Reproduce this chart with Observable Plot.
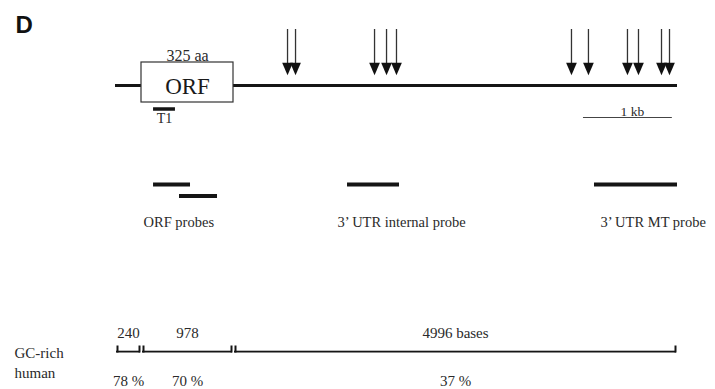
<!DOCTYPE html>
<html>
<head>
<meta charset="utf-8">
<script src="https://cdn.jsdelivr.net/npm/d3@7"></script>
<script src="https://cdn.jsdelivr.net/npm/@observablehq/plot@0.6"></script>
<style>
  html, body { margin: 0; padding: 0; background: #fff; }
  #chart { width: 715px; height: 389px; }
</style>
</head>
<body>
<div id="chart"></div>
<script>
// ---------------- DATA (bases along the transcript) ----------------
const segmentNames   = ["5’ UTR", "ORF", "3’ UTR"];
const segmentLengths = [240, 978, 4996];          // bases
const gcPercent      = [78, 70, 37];              // % GC, GC-rich human
const orfLengthAA    = 325;                        // aa
const arrowPositions = [1826, 1916, 2805, 2940, 3052, 5021, 5212, 5651, 5775, 6034, 6124]; // motif sites (bp)
const t1Probe        = {name: "T1", start: 368, end: 601};
const probeNames     = ["ORF probe a", "ORF probe b", "3’ UTR internal probe", "3’ UTR MT probe"];
const probeGroups    = ["ORF probes", "ORF probes", "3’ UTR internal probe", "3’ UTR MT probe"];
const probeStarts    = [368, 644, 2501, 5280];
const probeEnds      = [761, 1048, 3086, 6214];
const scaleBar       = {start: 5156, length: 1000, label: "1 kb"};
const rowLabels      = ["GC-rich", "human"];
const panelLabel     = "D";

// ---------------- derived tables ----------------
let acc = 0;
const segments = segmentNames.map((name, i) => {
  const s = {name, start: acc, end: acc + segmentLengths[i], length: segmentLengths[i], gc: gcPercent[i],
    label: i === segmentNames.length - 1 ? `${segmentLengths[i]} bases` : `${segmentLengths[i]}`};
  acc += segmentLengths[i];
  return s;
});
const total = acc;
const orf = segments[1];
const probes = probeNames.map((name, i) => ({name, group: probeGroups[i], start: probeStarts[i], end: probeEnds[i]}));
probes.forEach((p, i) => { p.lane = probes.slice(0, i).filter(q => q.group === p.group).length; });
const groups = d3.groups(probes, d => d.group).map(([group, ps]) => ({group, start: d3.min(ps, d => d.start)}));

// ---------------- LAYOUT (pixels, code only) ----------------
const L = {
  shaftTop: 29, shaftBottom: 64, head: 68.5, gene: 85,
  boxTop: 62, boxBottom: 102, aaBase: 60, orfBase: 93,
  t1: 108.5, t1Base: 122, scale: 117, scaleBase: 115,
  probe: 184, laneGap: 11.5, probeLabelBase: 226,
  segLabelBase: 337, brTop: 345.5, brBottom: 352.5, pctBase: 385,
  rowBase: [357, 377]
};
const labelDx = {"ORF probes": -10, "3’ UTR internal probe": -10, "3’ UTR MT probe": 6};
const ink = "#151515", txt = "#2a2a2a";

// the schematic draws the 5' UTR a little wider than to scale: a piecewise warp of the base axis
const xLeft = 115, xRight = 677;
const pxPerBase = (xRight - xLeft) / total;
const warp = d3.scaleLinear()
  .domain([0, segments[1].start, segments[2].start, total])
  .range([0, (141 - xLeft) / pxPerBase, (233 - xLeft) / pxPerBase, total]);

const downTriangle = {
  draw(ctx, size) {
    const r = Math.sqrt(size / Math.PI);
    const w = r * 0.85, h = r;
    ctx.moveTo(-w, -h); ctx.lineTo(w, -h); ctx.lineTo(0, h); ctx.closePath();
  }
};

const serif = "Liberation Serif";

const chart = Plot.plot({
  width: 715, height: 389,
  marginTop: 0, marginRight: 0, marginBottom: 0, marginLeft: 0,
  x: {domain: [0, total], range: [xLeft, xRight], transform: d => warp(d), axis: null},
  y: {type: "identity"},
  style: {background: "#fff", fontFamily: serif, color: txt},
  marks: [
    // panel label
    Plot.text([panelLabel], {frameAnchor: "top-left", dx: 15, dy: 32, lineAnchor: "bottom", text: d => d,
      fontFamily: "Liberation Sans", fontWeight: "bold", fontSize: 24, fill: "#111", textAnchor: "start"}),
    // gene line
    Plot.ruleY([{start: 0, end: total}], {x1: "start", x2: "end", y: () => L.gene, stroke: ink, strokeWidth: 3}),
    // ORF box
    Plot.rect([orf], {x1: "start", x2: "end", y1: () => L.boxTop, y2: () => L.boxBottom, fill: "#fff", stroke: "#333", strokeWidth: 1.2}),
    Plot.text([orf], {x: d => (d.start + d.end) / 2, y: () => L.orfBase, text: () => "ORF", lineAnchor: "bottom", fontSize: 23, fill: "#1a1a1a"}),
    Plot.text([orf], {x: d => (d.start + d.end) / 2, y: () => L.aaBase, text: () => `${orfLengthAA} aa`, lineAnchor: "bottom", fontSize: 16, fill: txt}),
    // arrows
    Plot.ruleX(arrowPositions, {x: d => d, y1: () => L.shaftTop, y2: () => L.shaftBottom, stroke: "#333", strokeWidth: 1.3}),
    Plot.dot(arrowPositions, {x: d => d, y: () => L.head, symbol: downTriangle, r: 6.3, fill: "#111", stroke: "none"}),
    // T1
    Plot.ruleY([t1Probe], {x1: "start", x2: "end", y: () => L.t1, stroke: ink, strokeWidth: 3.5}),
    Plot.text([t1Probe], {x: d => (d.start + d.end) / 2, y: () => L.t1Base, text: "name", lineAnchor: "bottom", fontSize: 14, fill: txt}),
    // scale bar
    Plot.ruleY([scaleBar], {x1: "start", x2: d => d.start + d.length, y: () => L.scale, stroke: "#444", strokeWidth: 1}),
    Plot.text([scaleBar], {x: d => d.start + d.length * 0.55, y: () => L.scaleBase, text: "label", lineAnchor: "bottom", fontSize: 13.5, fill: txt}),
    // probes
    Plot.ruleY(probes, {x1: "start", x2: "end", y: d => L.probe + d.lane * L.laneGap, stroke: ink, strokeWidth: 4}),
    ...groups.map(g => Plot.text([g], {x: "start", y: () => L.probeLabelBase, text: "group", textAnchor: "start",
      dx: labelDx[g.group] || 0, lineAnchor: "bottom", fontSize: 14.5, fill: txt})),
    // row labels
    Plot.text(rowLabels, {frameAnchor: "left", dx: 14, y: (d, i) => L.rowBase[i], text: d => d, textAnchor: "start", lineAnchor: "bottom", fontSize: 15, fill: txt}),
    // brackets
    Plot.rect(segments, {x1: "start", x2: "end", y1: () => L.brBottom - 1.8, y2: () => L.brBottom, insetLeft: 1, insetRight: 1, fill: ink}),
    Plot.ruleX(segments, {x: "start", y1: () => L.brTop, y2: () => L.brBottom, dx: 2, stroke: ink, strokeWidth: 2}),
    Plot.ruleX(segments, {x: "end", y1: () => L.brTop, y2: () => L.brBottom, dx: -2, stroke: ink, strokeWidth: 2}),
    Plot.text(segments, {x: d => (d.start + d.end) / 2, y: () => L.segLabelBase, text: "label", lineAnchor: "bottom", fontSize: 15, fill: txt}),
    Plot.text(segments, {x: d => (d.start + d.end) / 2, y: () => L.pctBase, text: d => `${d.gc} %`, lineAnchor: "bottom", fontSize: 15, fill: txt})
  ]
});
document.getElementById("chart").appendChild(chart);
</script>
</body>
</html>
